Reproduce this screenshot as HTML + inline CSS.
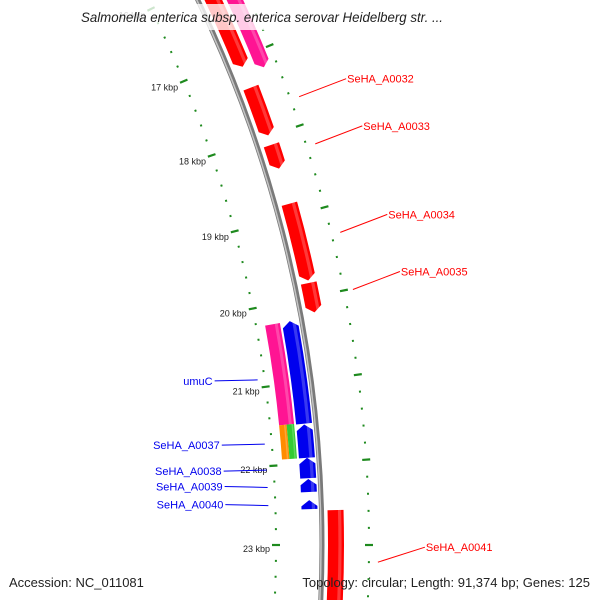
<!DOCTYPE html>
<html><head><meta charset="utf-8"><style>
html,body{margin:0;padding:0;background:#fff;width:600px;height:600px;overflow:hidden;}
svg{display:block;font-family:"Liberation Sans","DejaVu Sans",sans-serif;}
</style></head><body>
<svg id="map" width="600" height="600" viewBox="0 0 600 600" overflow="hidden">
<g id="ticks"></g>
<g id="backbone"></g>
<g id="features"></g>
<g id="labels"></g>
<rect x="85" y="4" width="440" height="26" fill="#fff" fill-opacity="0.78"/>
<text x="262" y="22" text-anchor="middle" font-size="14" font-style="italic" fill="#222" textLength="362" lengthAdjust="spacingAndGlyphs">Salmonella enterica subsp. enterica serovar Heidelberg str. ...</text>
<text x="9" y="587" font-size="13" fill="#222">Accession: NC_011081</text>
<text x="590" y="587" font-size="13" fill="#222" text-anchor="end">Topology: circular; Length: 91,374 bp; Genes: 125</text>
</svg>
<script>
// data (kbp)
const featStart = [15.3, 17.38, 18.11, 18.85, 19.83, 22.58, 15.3, 20.24, 21.52, 21.93, 22.19, 22.45, 20.24, 21.50, 21.50];
const featEnd   = [17.11, 17.99, 18.41, 19.80, 20.19, 24.5, 17.21, 21.51, 21.93, 22.18, 22.35, 22.56, 21.50, 21.93, 21.93];
const featStrand= [1,1,1,1,1,1,1,-1,-1,-1,-1,-1,0,0,0];
const featRing  = ["fwd","fwd","fwd","fwd","fwd","fwd","out","rev","rev","rev","rev","rev","cogA","cogB","cogC"];
const featColor = ["#ff0000","#ff0000","#ff0000","#ff0000","#ff0000","#ff0000","#ff1493","#0000ee","#0000ee","#0000ee","#0000ee","#0000ee","#ff1493","#ff8c00","#33cc33"];
const featName  = ["gene-a0031","gene-a0032","gene-a0033","gene-a0034","gene-a0035","gene-a0041","gene-outer-pink","gene-umuc","gene-a0037","gene-a0038","gene-a0039","gene-a0040","cog-umuc","cog-a0037-orange","cog-a0037-green"];
const tickMajor = [16,17,18,19,20,21,22,23,24];
const tickLabels = ["16 kbp","17 kbp","18 kbp","19 kbp","20 kbp","21 kbp","22 kbp","23 kbp","24 kbp"];
const labelText = ["SeHA_A0032","SeHA_A0033","SeHA_A0034","SeHA_A0035","SeHA_A0041","umuC","SeHA_A0037","SeHA_A0038","SeHA_A0039","SeHA_A0040"];
const labelKbp  = [17.68, 18.26, 19.33, 20.01, 23.2, 20.9, 21.72, 22.05, 22.27, 22.50];
const labelSide = [1,1,1,1,1,-1,-1,-1,-1,-1];

const NS="http://www.w3.org/2000/svg";
const CX=-936, CY=545;
const ang = k => (k-23)*3.75*Math.PI/180;
const pt = (k,r) => [CX + r*Math.cos(ang(k)), CY + r*Math.sin(ang(k))];
const rings = {fwd:[1264,1280], out:[1284,1299], rev:[1238,1254], cogA:[1221,1236], cogB:[1221,1228.5], cogC:[1228.5,1236]};
function mk(tag, attrs, parent){const e=document.createElementNS(NS,tag);for(const k in attrs)e.setAttribute(k,attrs[k]);parent.appendChild(e);return e;}
function arcPath(k1,k2,r1,r2,strand){
  const head = 6/1260/(3.75*Math.PI/180);
  const rm=(r1+r2)/2; let d;
  const f = p=>p[0].toFixed(2)+" "+p[1].toFixed(2);
  if(strand===1 && k2-k1>head){
    const kh=k2-head;
    d="M"+f(pt(k1,r2))+" A"+r2+" "+r2+" 0 0 1 "+f(pt(kh,r2))+" L"+f(pt(k2,rm))+" L"+f(pt(kh,r1))+" A"+r1+" "+r1+" 0 0 0 "+f(pt(k1,r1))+" Z";
  } else if(strand===-1 && k2-k1>head){
    const kh=k1+head;
    d="M"+f(pt(k1,rm))+" L"+f(pt(kh,r2))+" A"+r2+" "+r2+" 0 0 1 "+f(pt(k2,r2))+" L"+f(pt(k2,r1))+" A"+r1+" "+r1+" 0 0 0 "+f(pt(kh,r1))+" Z";
  } else {
    d="M"+f(pt(k1,r2))+" A"+r2+" "+r2+" 0 0 1 "+f(pt(k2,r2))+" L"+f(pt(k2,r1))+" A"+r1+" "+r1+" 0 0 0 "+f(pt(k1,r1))+" Z";
  }
  return d;
}
// ticks
const tg=document.getElementById("ticks");
for(let i=75;i<=125;i++){
  const k=i/5; const major=(i%5===0);
  for(const rc of [1212,1305]){
    const a=pt(k, rc-(major?4:1)), b=pt(k, rc+(major?4:1));
    const l=mk("line",{x1:a[0],y1:a[1],x2:b[0],y2:b[1],stroke:"#1e8a1e","stroke-width":major?2.2:2},tg);
    
    
  }
}
tickMajor.forEach((k,i)=>{
  const p=pt(k,1206);
  const t=mk("text",{x:p[0],y:p[1]+7,"text-anchor":"end","font-size":"9",fill:"#222"},tg);
  t.textContent=tickLabels[i];
  
  
});
// backbone
const bg=document.getElementById("backbone");
const b1=pt(14,1258), b2=pt(24.3,1258);
const bp="M"+b1[0]+" "+b1[1]+" A1258 1258 0 0 1 "+b2[0]+" "+b2[1];
mk("path",{d:bp,fill:"none",stroke:"#7a7a7a","stroke-width":5},bg);
const hl=mk("path",{d:bp,fill:"none",stroke:"#c4c4c4","stroke-width":1.5,transform:"translate(-1,0)"},bg);


// features
const fg=document.getElementById("features");
featStart.forEach((s,i)=>{
  const r=rings[featRing[i]];
  const p=mk("path",{d:arcPath(s,featEnd[i],r[0],r[1],featStrand[i]),fill:featColor[i]},fg);
  
  
  const w=(r[1]-r[0]);
  const h=mk("path",{d:arcPath(s,featEnd[i],r[1]-w*0.35,r[1]-w*0.15,0),fill:"#fff","fill-opacity":0.22},fg);
  
  
});
// labels
const lg=document.getElementById("labels");
labelText.forEach((txt,i)=>{
  const k=labelKbp[i], side=labelSide[i];
  const col= side===1?"#ff0000":"#0000ee";
  const a= side===1? pt(k,1314) : pt(k,1205);
  let tx, ty;
  if(side===1){ tx=a[0]+48; ty=a[1]-18+ (i===4?3:0); }
  else {
    tx=a[0]-44;
    if(i>=7){ ty=a[1]+(i===7?1:-1); } else { ty=a[1]+1; }
  }
  const ln=mk("line",{x1:a[0],y1:a[1],x2:side===1?tx-1:tx+1,y2:ty,stroke:col,"stroke-width":1},lg);
  
  
  const t=mk("text",{x:side===1?tx:tx-1,y:ty+4,"text-anchor":side===1?"start":"end","font-size":"11",fill:col},lg);
  t.textContent=txt;
  
  
});
</script>
</body></html>
